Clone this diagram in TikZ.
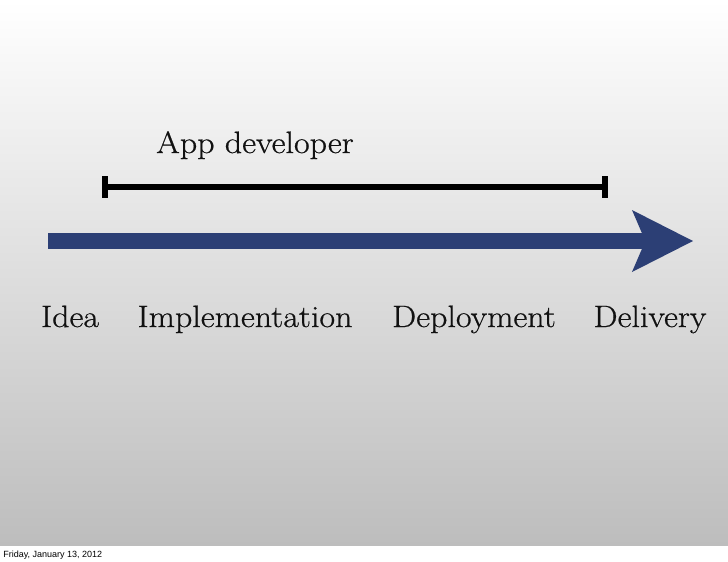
\documentclass[tikz,border=0pt]{standalone}
\usepackage{fontspec}
\newfontfamily\datefont{Liberation Sans}
\newfontfamily\stagefont[FakeStretch=1.1, FakeBold=0.6]{Latin Modern Roman}
\usepackage{xcolor}
\definecolor{flownavy}{RGB}{44, 63, 117}
\definecolor{slidegray}{RGB}{189, 189, 189}
\definecolor{labelblack}{RGB}{17, 17, 17}
\usetikzlibrary{arrows.meta}
\tikzset{
  % --- TEXT ---
  stage-label/.style={
    font=\stagefont\fontsize{22}{26}\selectfont,
    text=labelblack,
    anchor=base,
    inner sep=0pt
  },
  date-label/.style={
    font=\datefont\fontsize{6.4}{8}\selectfont,
    text=black,
    anchor=base west,
    inner sep=0pt
  },
  % --- LINES ---
  span-line/.style={
    draw=black,
    line width=4.5pt,
    {Bar[width=15pt, line width=4.5pt]}-{Bar[width=15pt, line width=4.5pt]}
  },
  flow-arrow/.style={
    draw=flownavy,
    line width=11.4pt,
    -{Stealth[length=43.4pt, width=44.1pt, inset=9.5pt, line width=0pt]}
  },
}

\begin{document}
\begin{tikzpicture}[x=0.025cm, y=-0.025cm]
  \useasboundingbox (0,0) rectangle (728,561);

  % --- slide background
  \shade[top color=white, bottom color=slidegray] (0,0) rectangle (728,546);
  \fill[white] (0,546) rectangle (728,561);

  % --- role span
  \node[stage-label] (dev) at (255,153) {App developer};
  \coordinate (devL) at (102,187);
  \coordinate (devR) at (608,187);
  \draw[span-line] (devL) -- (devR);

  % --- flow arrow
  \coordinate (flowL) at (48,241);
  \coordinate (flowR) at (693,241);
  \draw[flow-arrow] (flowL) -- (flowR);

  % --- stages
  \node[stage-label] (idea)   at (70,327)  {Idea};
  \node[stage-label] (impl)   at (245,327) {Implementation};
  \node[stage-label] (deploy) at (474,327) {Deployment};
  \node[stage-label] (deliv)  at (650,327) {Delivery};

  % --- footer
  \node[date-label] (date) at (3,557) {Friday, January 13, 2012};

\end{tikzpicture}
\end{document}
